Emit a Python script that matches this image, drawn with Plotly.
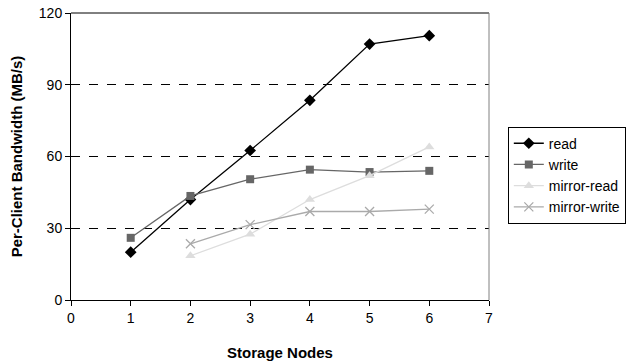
import plotly.graph_objects as go

nodes = [1, 2, 3, 4, 5, 6]
nodes_mirror = [2, 3, 4, 5, 6]
read = [20, 42, 62.5, 83.5, 107, 110.5]
write = [26, 43.5, 50.5, 54.5, 53.5, 54]
mirror_read = [18.5, 27.5, 42, 52, 64]
mirror_write = [23.5, 31.5, 37, 37, 38]

x_ticks = [0, 1, 2, 3, 4, 5, 6, 7]
y_ticks = [0, 30, 60, 90, 120]

fig = go.Figure()
fig.add_trace(go.Scatter(x=nodes, y=read, name="read", mode="lines+markers",
                         line=dict(color="#000000", width=1.3),
                         marker=dict(symbol="diamond", size=9, color="#000000")))
fig.add_trace(go.Scatter(x=nodes, y=write, name="write", mode="lines+markers",
                         line=dict(color="#666666", width=1.3),
                         marker=dict(symbol="square", size=8, color="#666666")))
fig.add_trace(go.Scatter(x=nodes_mirror, y=mirror_read, name="mirror-read", mode="lines+markers",
                         line=dict(color="#dddddd", width=1.3),
                         marker=dict(symbol="triangle-up", size=9, color="#dddddd")))
fig.add_trace(go.Scatter(x=nodes_mirror, y=mirror_write, name="mirror-write", mode="lines+markers",
                         line=dict(color="#aaaaaa", width=1.3),
                         marker=dict(symbol="x-thin", size=9, color="#aaaaaa",
                                     line=dict(color="#aaaaaa", width=1.3))))

fig.update_layout(
    width=633, height=363,
    margin=dict(l=71, r=144, t=13, b=63, autoexpand=False),
    paper_bgcolor="white", plot_bgcolor="white",
    font=dict(family="Liberation Sans, Arial, sans-serif", size=14, color="#000000"),
    showlegend=True,
    legend=dict(x=1.045, y=0.604, xanchor="left", yanchor="top",
                bordercolor="#000000", borderwidth=1, bgcolor="white",
                font=dict(size=14), tracegroupgap=0, itemwidth=30),
    shapes=[
        dict(type="line", xref="paper", yref="paper", x0=0, x1=1, y0=1, y1=1,
             line=dict(color="#000000", width=1), layer="above"),
        dict(type="line", xref="paper", yref="paper", x0=1, x1=1, y0=0, y1=1,
             line=dict(color="#808080", width=1), layer="above"),
    ],
)
fig.update_xaxes(range=[0, 7], tickvals=x_ticks, ticktext=[str(v) for v in x_ticks],
                 showgrid=False, zeroline=False, showline=True, linecolor="#000000", linewidth=1,
                 ticks="outside", ticklen=5, tickcolor="#000000", automargin=False,
                 tickfont=dict(size=14),
                 title=dict(text="<b>Storage Nodes</b>", font=dict(size=15), standoff=22))
fig.update_yaxes(range=[0, 120], tickvals=y_ticks, ticktext=[str(v) for v in y_ticks],
                 showgrid=True, gridcolor="#000000", griddash="dash", gridwidth=1,
                 zeroline=False, showline=True, linecolor="#000000", linewidth=1,
                 ticks="outside", ticklen=5, tickcolor="#000000", automargin=False,
                 tickfont=dict(size=14),
                 title=dict(text="<b>Per-Client Bandwidth (MB/s)</b>", font=dict(size=15), standoff=12))

fig.write_html("out.html", config={"displayModeBar": False},
               post_script="document.body.style.margin='0';document.body.style.padding='0';")
